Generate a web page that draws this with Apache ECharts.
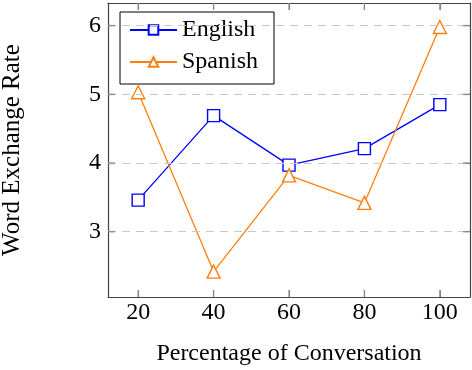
<!DOCTYPE html>
<html>
<head>
<meta charset="utf-8">
<script src="https://cdn.jsdelivr.net/npm/echarts@6/dist/echarts.min.js"></script>
<style>
  html, body { margin: 0; padding: 0; background: #fff; }
  #chart { width: 472px; height: 370px; }
</style>
</head>
<body>
<div id="chart"></div>
<script>
// data
var percentages = [20, 40, 60, 80, 100];
var english = [3.46, 4.69, 3.97, 4.21, 4.85];
var spanish = [5.03, 2.42, 3.82, 3.42, 5.98];
var yTicks = [3, 4, 5, 6];

var serif = "'Liberation Serif', 'DejaVu Serif', serif";
var frame = "#444";
var xMin = 12, xMax = 108, yMin = 2.05, yMax = 6.33;

function pairs(xs, ys) {
  return xs.map(function (x, i) { return [x, ys[i]]; });
}

function tick(values) {
  return { show: true, inside: true, length: 7, lineStyle: { color: "#888", width: 1.2 }, customValues: values };
}

var chart = echarts.init(document.getElementById("chart"));
var option = {
  animation: false,
  grid: {
    left: 108,
    right: 2,
    top: 3,
    bottom: 73,
    outerBoundsMode: "none",
  },
  legend: {
    left: 120,
    top: 12,
    orient: "vertical",
    backgroundColor: "#fff",
    borderColor: "#000",
    borderWidth: 1,
    borderRadius: 0,
    padding: [6, 16, 10, 9],
    itemGap: 8,
    itemWidth: 47,
    itemHeight: 12,
    textStyle: { fontFamily: serif, fontSize: 24, color: "#000" },
    data: ["English", "Spanish"],
  },
  xAxis: [
    {
      type: "value",
      min: xMin,
      max: xMax,
      name: "Percentage of Conversation",
      nameLocation: "middle",
      nameGap: 45,
      nameTextStyle: { fontFamily: serif, fontSize: 24, color: "#000" },
      axisLine: { show: true, lineStyle: { color: frame, width: 1.2 } },
      axisTick: tick(percentages),
      axisLabel: { fontFamily: serif, fontSize: 24, color: "#000", margin: 4, customValues: percentages },
      splitLine: { show: false },
    },
    {
      type: "value",
      position: "top",
      min: xMin,
      max: xMax,
      axisLine: { show: true, lineStyle: { color: frame, width: 1.2 } },
      axisLabel: { show: false, customValues: percentages },
      axisTick: tick(percentages),
      splitLine: { show: false },
    },
  ],
  yAxis: [
    {
      type: "value",
      min: yMin,
      max: yMax,
      name: "Word Exchange Rate",
      nameLocation: "middle",
      nameGap: 83,
      nameTextStyle: { fontFamily: serif, fontSize: 25, color: "#000" },
      axisLine: { show: true, lineStyle: { color: frame, width: 1.2 } },
      axisLabel: { fontFamily: serif, fontSize: 24, color: "#000", margin: 7, customValues: yTicks },
      axisTick: tick(yTicks),
      splitLine: { show: false },
    },
    {
      type: "value",
      position: "right",
      min: yMin,
      max: yMax,
      axisLine: { show: true, lineStyle: { color: frame, width: 1.2 } },
      axisLabel: { show: false, customValues: yTicks },
      axisTick: tick(yTicks),
      splitLine: { show: false },
    },
  ],
  series: [
    {
      // dashed horizontal grid lines at the y ticks
      type: "line",
      data: [],
      silent: true,
      markLine: {
        silent: true,
        symbol: "none",
        label: { show: false },
        lineStyle: { color: "#c8c8c8", type: [8, 6], width: 1.2 },
        data: yTicks.map(function (v) { return { yAxis: v }; }),
      },
    },
    {
      name: "English",
      type: "line",
      data: pairs(percentages, english),
      symbol: "rect",
      symbolSize: 12,
      lineStyle: { color: "#0000ff", width: 1.3 },
      itemStyle: { color: "#fff", borderColor: "#0000ff", borderWidth: 1.4 },
      z: 3,
    },
    {
      name: "Spanish",
      type: "line",
      data: pairs(percentages, spanish),
      symbol: "triangle",
      symbolSize: 13,
      lineStyle: { color: "#ff7f0e", width: 1.3 },
      itemStyle: { color: "#fff", borderColor: "#ff7f0e", borderWidth: 1.4 },
      z: 3,
    },
  ],
};
chart.setOption(option);

// inward frame ticks, placed through the chart's own scales
var len = 7;
var tickLines = [];
function addTick(p, ddx, ddy) {
  tickLines.push({
    type: "line",
    silent: true,
    z: 50,
    shape: { x1: p[0], y1: p[1], x2: p[0] + ddx, y2: p[1] + ddy },
    style: { stroke: "#888", lineWidth: 1.2 },
  });
}
percentages.forEach(function (x) {
  addTick(chart.convertToPixel({ gridIndex: 0 }, [x, yMin]), 0, -len);
  addTick(chart.convertToPixel({ gridIndex: 0 }, [x, yMax]), 0, len);
});
yTicks.forEach(function (y) {
  addTick(chart.convertToPixel({ gridIndex: 0 }, [xMin, y]), len, 0);
  addTick(chart.convertToPixel({ gridIndex: 0 }, [xMax, y]), -len, 0);
});
chart.setOption({ graphic: tickLines });
</script>
</body>
</html>
